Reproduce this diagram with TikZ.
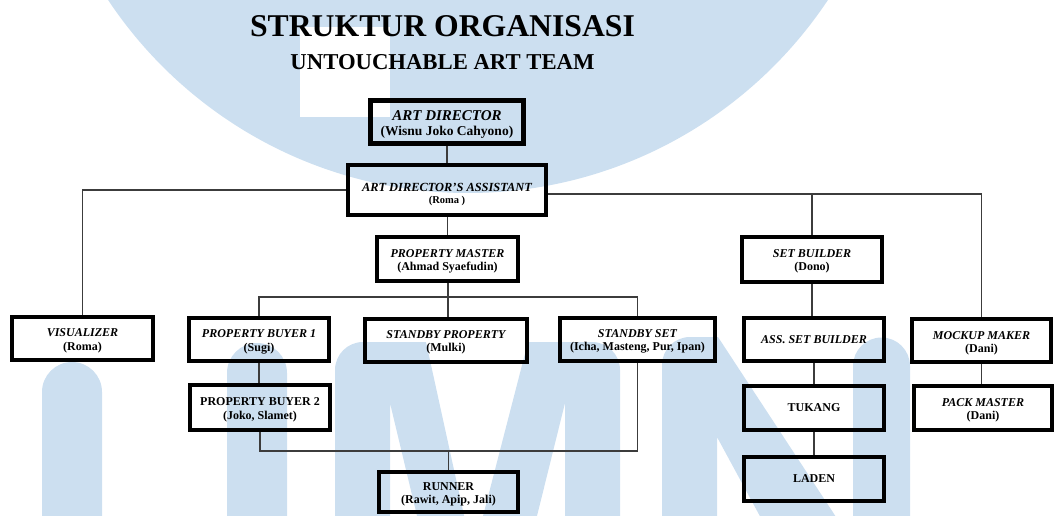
\documentclass[tikz,border=0pt]{standalone}
\usepackage{fontspec}
\setmainfont{Liberation Serif}
\definecolor{wm}{RGB}{204,223,240}
\definecolor{conn}{RGB}{60,60,60}
\newcommand\bxit[1]{{\itshape #1}}
\newcommand\topstrut[1]{\rule{0pt}{#1}}
\tikzset{
  orgbox/.style={draw=black, line width=3.6pt, inner sep=1pt, align=center,
    minimum width=140pt, minimum height=43.5pt,
    font=\fontsize{12}{13.3}\selectfont\bfseries},
  link/.style={draw=conn, line width=1.2pt},
  wmfill/.style={fill=wm, draw=none}
}
\begin{document}
\begin{tikzpicture}[x=1pt,y=-1pt]
\useasboundingbox (0,0) rectangle (1055,516);
% watermark
\begin{scope}
\clip (0,0) rectangle (1055,516);
\fill[wmfill] (468,-239) circle[radius=432pt];
\fill[white] (300,27) rectangle (390,117);
% U
\fill[wmfill] (42,520) -- (42,392) arc[start angle=180,end angle=0,radius=30pt] -- (102,520) -- cycle;
\fill[wmfill] (227,520) -- (227,373) arc[start angle=180,end angle=0,radius=30pt] -- (287,520) -- cycle;
% M
\fill[wmfill] (335,520) -- (335,370) arc[start angle=180,end angle=90,radius=28pt] -- (426,342) -- (465,520) -- (418,520) -- (390,403) -- (390,520) -- cycle;
\fill[wmfill] (482,520) -- (528,342) -- (592,342) arc[start angle=90,end angle=0,radius=28pt] -- (620,520) -- (565,520) -- (565,403) -- (536,520) -- cycle;
% N
\fill[wmfill] (662,520) -- (662,365) arc[start angle=180,end angle=90,radius=28pt] -- (718,337) -- (838,520) -- (762,520) -- (717,437) -- (717,520) -- cycle;
\fill[wmfill] (853,520) -- (853,366) arc[start angle=180,end angle=0,radius=28.5pt] -- (910,520) -- cycle;
\end{scope}
% titles
\node[font=\fontsize{31.7}{34}\selectfont\bfseries, anchor=base, inner sep=0pt] (title) at (442.5,37) {STRUKTUR ORGANISASI};
\node[font=\fontsize{22.7}{25}\selectfont\bfseries, anchor=base, inner sep=0pt] (subtitle) at (442.5,70) {UNTOUCHABLE ART TEAM};
% boxes
\node[orgbox, line width=4.6pt, minimum width=153pt, minimum height=43pt] (AD) at (447,122)
  {\topstrut{15pt}{\fontsize{15}{15}\selectfont\itshape ART DIRECTOR}\\[1pt]{\fontsize{13.5}{14}\selectfont (Wisnu Joko Cahyono)}};
\node[orgbox, minimum width=198pt, minimum height=50pt] (ADA) at (447,190)
  {\topstrut{17pt}{\fontsize{12.4}{13}\selectfont\itshape ART DIRECTOR'S ASSISTANT}\\[-1.5pt]{\fontsize{10.5}{11}\selectfont (Roma )}};
\node[orgbox, minimum width=141pt, minimum height=44pt] (PM) at (447.5,259) {\topstrut{12pt}\bxit{PROPERTY MASTER}\\(Ahmad Syaefudin)};
\node[orgbox, minimum width=140pt, minimum height=45pt] (SB) at (812,259.5) {\topstrut{12pt}\bxit{SET BUILDER}\\(Dono)};
\node[orgbox, minimum width=141pt] (VIS) at (82.5,338.5) {\topstrut{12.5pt}\bxit{VISUALIZER}\\(Roma)};
\node[orgbox] (PB1) at (259,339.5) {\topstrut{12.5pt}\bxit{PROPERTY BUYER 1}\\(Sugi)};
\node[orgbox, minimum width=162pt] (SP) at (446,340.5) {\topstrut{11pt}\bxit{STANDBY PROPERTY}\\(Mulki)};
\node[orgbox, minimum width=155pt] (SS) at (637.5,339.5) {\topstrut{11pt}\bxit{STANDBY SET}\\(Icha, Masteng, Pur, Ipan)};
\node[orgbox] (ASB) at (814,339.5) {\bxit{ASS. SET BUILDER}};
\node[orgbox, minimum width=139pt] (MM) at (981.5,340.5) {\topstrut{13pt}\bxit{MOCKUP MAKER}\\(Dani)};
\node[orgbox, minimum height=45pt] (PB2) at (260,407.5) {\topstrut{12.5pt}PROPERTY BUYER 2\\(Joko, Slamet)};
\node[orgbox, minimum height=44.5pt] (TUK) at (814,408) {TUKANG};
\node[orgbox, minimum width=138pt, minimum height=44.5pt] (PACK) at (983,408) {\topstrut{12.5pt}\bxit{PACK MASTER}\\(Dani)};
\node[orgbox, minimum width=139pt, minimum height=40.5pt] (RUN) at (448.5,492) {\topstrut{12.5pt}RUNNER\\(Rawit, Apip, Jali)};
\node[orgbox, minimum height=44.5pt] (LAD) at (814,479) {LADEN};
% connectors
\coordinate (rbus) at ([yshift=-4pt]ADA.east);
\coordinate (pbus) at (448,297);
\coordinate (qbus) at (448.5,451);
\draw[link] (AD.south) -- (AD.south |- ADA.north);
\draw[link] (ADA.west) -| (VIS.north);
\draw[link] (rbus) -| (MM.north);
\draw[link] (SB.north) -- (SB.north |- rbus);
\draw[link] (ADA.south -| PM.north) -- (PM.north);
\draw[link] (PM.south -| pbus) -- (pbus |- SP.north);
\draw[link] (PB1.north) |- (pbus) -| (SS.north);
\draw[link] (PB1.south) -- (PB1.south |- PB2.north);
\draw[link] (PB2.south) |- (qbus) -| (SS.south);
\draw[link] (qbus) -- (RUN.north);
\draw[link] (SB.south) -- (SB.south |- ASB.north);
\draw[link] (ASB.south) -- (TUK.north);
\draw[link] (TUK.south) -- (LAD.north);
\draw[link] (MM.south) -- (MM.south |- PACK.north);
\end{tikzpicture}
\end{document}
